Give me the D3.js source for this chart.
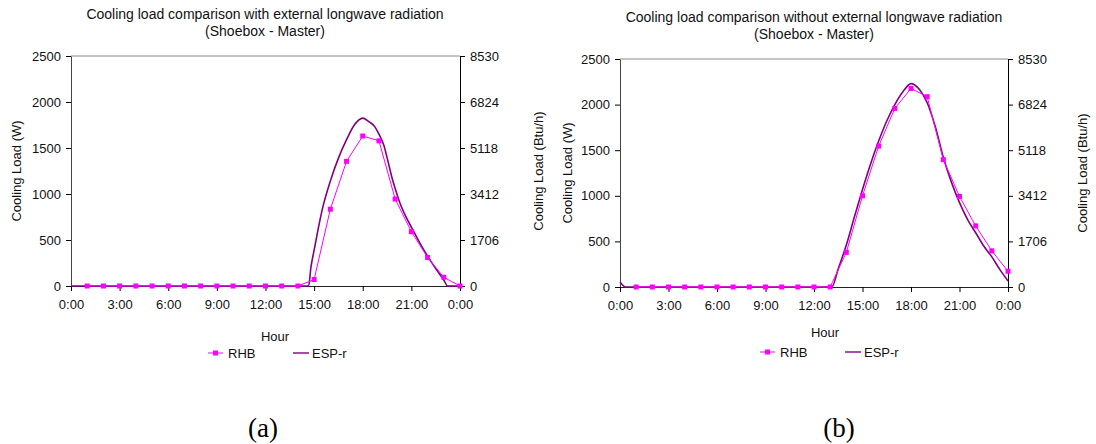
<!DOCTYPE html>
<html>
<head>
<meta charset="utf-8">
<script src="https://cdn.jsdelivr.net/npm/d3@7"></script>
<style>
  body { margin: 0; background: #fff; }
  svg { display: block; font-family: Arial, 'Liberation Sans', sans-serif; }
</style>
</head>
<body>
<svg id="visArea" width="1096" height="444"></svg>
<script>
// hour ticks and labels
const hourTicks = [0, 3, 6, 9, 12, 15, 18, 21, 24]
const hourLabels = ['0:00', '3:00', '6:00', '9:00', '12:00', '15:00', '18:00', '21:00', '0:00']
const wattTicks = [0, 500, 1000, 1500, 2000, 2500]
const btuTicks = [0, 1706, 3412, 5118, 6824, 8530]

// RHB: hourly values, hours 1..24
const rhbHours = [1, 2, 3, 4, 5, 6, 7, 8, 9, 10, 11, 12, 13, 14, 15, 16, 17, 18, 19, 20, 21, 22, 23, 24]
const rhbA = [0, 0, 0, 0, 0, 0, 0, 0, 0, 0, 0, 0, 0, 0, 70, 835, 1355, 1630, 1578, 945, 590, 310, 95, 0]
const rhbB = [0, 0, 0, 0, 0, 0, 0, 0, 0, 0, 0, 0, 0, 380, 1000, 1545, 1958, 2177, 2087, 1396, 993, 670, 396, 173]

// ESP-r: sub-hourly output
const espTimeA = [0, 14.66, 14.8, 15, 15.25, 15.5, 16, 16.5, 17, 17.5, 18, 18.35, 18.75, 19, 19.3, 19.55, 19.8, 20, 20.3, 20.7, 21, 21.5, 22, 22.5, 23, 23.24, 24]
const espA = [0, 0, 200, 390, 620, 830, 1140, 1390, 1590, 1755, 1825, 1790, 1730, 1650, 1530, 1360, 1180, 1060, 900, 740, 640, 475, 325, 190, 65, 0, 0]
const espTimeB = [0, 0.35, 13.1, 13.5, 14, 14.5, 15, 15.5, 16, 16.5, 17, 17.5, 18, 18.5, 19, 19.5, 20, 20.5, 21, 21.5, 22, 22.5, 23, 23.5, 24]
const espB = [55, 0, 0, 200, 460, 770, 1070, 1350, 1600, 1820, 2000, 2140, 2230, 2170, 2020, 1760, 1420, 1150, 925, 740, 595, 450, 330, 190, 66]

const svg = d3.select('#visArea')
const fs = 13

function panel(opt) {
  const x = d3.scaleLinear().domain([0, 24]).range([opt.left, opt.right])
  const y = d3.scaleLinear().domain([0, 2500]).range([opt.bottom, opt.top])
  const yR = d3.scaleLinear().domain([0, 8530]).range([opt.bottom, opt.top])
  const g = svg.append('g')

  // title
  const title = g.append('text')
    .attr('text-anchor', 'middle')
    .attr('font-size', 14)
    .attr('fill', '#111')
  title.append('tspan').attr('x', opt.titleX).attr('y', opt.titleY).text(opt.title)
  title.append('tspan').attr('x', opt.titleX).attr('y', opt.titleY + 17).text('(Shoebox - Master)')

  // top gridline
  g.append('line')
    .attr('x1', opt.left).attr('x2', opt.right)
    .attr('y1', y(2500)).attr('y2', y(2500))
    .attr('stroke', '#8a8a8a')

  const left = g.append('g')
    .attr('transform', `translate(${opt.left},0)`)
    .call(d3.axisLeft(y).tickValues(wattTicks).tickSize(5).tickSizeOuter(0).tickPadding(5).tickFormat(d3.format('d')))
  left.select('.domain').attr('stroke', '#444')

  const right = g.append('g')
    .attr('transform', `translate(${opt.right},0)`)
    .call(d3.axisRight(yR).tickValues(btuTicks).tickSize(5).tickSizeOuter(0).tickPadding(5).tickFormat(d3.format('d')))
  right.select('.domain').attr('stroke', '#000')

  const bottom = g.append('g')
    .attr('transform', `translate(0,${opt.bottom})`)
    .call(d3.axisBottom(x).tickValues(hourTicks).tickSize(5).tickSizeOuter(0).tickPadding(9)
      .tickFormat((d, i) => hourLabels[i]))
  bottom.select('.domain').attr('stroke', '#222')

  svg.selectAll('.tick text').attr('font-size', fs).attr('fill', '#111')
    .attr('font-family', 'Arial, "Liberation Sans", sans-serif')

  // axis titles
  g.append('text')
    .attr('transform', `translate(${opt.yTitleL},${(opt.top + opt.bottom) / 2}) rotate(-90)`)
    .attr('text-anchor', 'middle').attr('font-size', fs).attr('fill', '#111')
    .text('Cooling Load (W)')
  g.append('text')
    .attr('transform', `translate(${opt.yTitleR},${(opt.top + opt.bottom) / 2}) rotate(-90)`)
    .attr('text-anchor', 'middle').attr('font-size', fs).attr('fill', '#111')
    .text('Cooling Load (Btu/h)')
  g.append('text')
    .attr('x', opt.hourX).attr('y', opt.hourY)
    .attr('text-anchor', 'middle').attr('font-size', fs).attr('fill', '#111')
    .text('Hour')

  // ESP-r line
  const esp = opt.espT.map((t, i) => [t, opt.esp[i]])
  g.append('path')
    .datum(esp)
    .attr('fill', 'none')
    .attr('stroke', '#800080')
    .attr('stroke-width', 1.6)
    .attr('d', d3.line().x(d => x(d[0])).y(d => y(d[1])).curve(d3.curveMonotoneX))

  // RHB line + markers
  const rhb = rhbHours.map((h, i) => [h, opt.rhb[i]])
  g.append('path')
    .datum(rhb)
    .attr('fill', 'none')
    .attr('stroke', '#ff00ff')
    .attr('stroke-width', 1)
    .attr('d', d3.line().x(d => x(d[0])).y(d => y(d[1])))
  g.append('g')
    .selectAll('rect')
    .data(rhb)
    .join('rect')
    .attr('x', d => x(d[0]) - 2.5)
    .attr('y', d => y(d[1]) - 2.5)
    .attr('width', 5).attr('height', 5)
    .attr('fill', '#ff00ff')

  // legend
  const lg = g.append('g').attr('transform', `translate(${opt.legX},${opt.legY})`)
  lg.append('line').attr('x1', 0).attr('x2', 15).attr('stroke', '#ff00ff')
  lg.append('rect').attr('x', 5).attr('y', -2.5).attr('width', 5).attr('height', 5).attr('fill', '#ff00ff')
  lg.append('text').attr('x', 20).attr('y', 5).attr('font-size', fs).attr('fill', '#111').text('RHB')
  lg.append('line').attr('x1', 85).attr('x2', 101).attr('stroke', '#800080').attr('stroke-width', 1.4)
  lg.append('text').attr('x', 104).attr('y', 5).attr('font-size', fs).attr('fill', '#111').text('ESP-r')

  // panel letter
  g.append('text')
    .attr('x', opt.letterX).attr('y', 437)
    .attr('text-anchor', 'middle')
    .attr('font-family', '"Liberation Serif", "Times New Roman", serif')
    .attr('font-size', 27)
    .attr('fill', '#000')
    .text(opt.letter)
}

panel({
  left: 71, right: 460, top: 56, bottom: 286,
  title: 'Cooling load comparison with external longwave radiation',
  titleX: 265, titleY: 19,
  yTitleL: 21, yTitleR: 543, hourX: 275, hourY: 341,
  legX: 208, legY: 353, letterX: 263, letter: '(a)',
  rhb: rhbA, espT: espTimeA, esp: espA
})

panel({
  left: 620, right: 1008, top: 59, bottom: 287,
  title: 'Cooling load comparison without external longwave radiation',
  titleX: 814, titleY: 22,
  yTitleL: 572, yTitleR: 1087, hourX: 825, hourY: 337,
  legX: 760, legY: 352, letterX: 839, letter: '(b)',
  rhb: rhbB, espT: espTimeB, esp: espB
})
</script>
</body>
</html>
